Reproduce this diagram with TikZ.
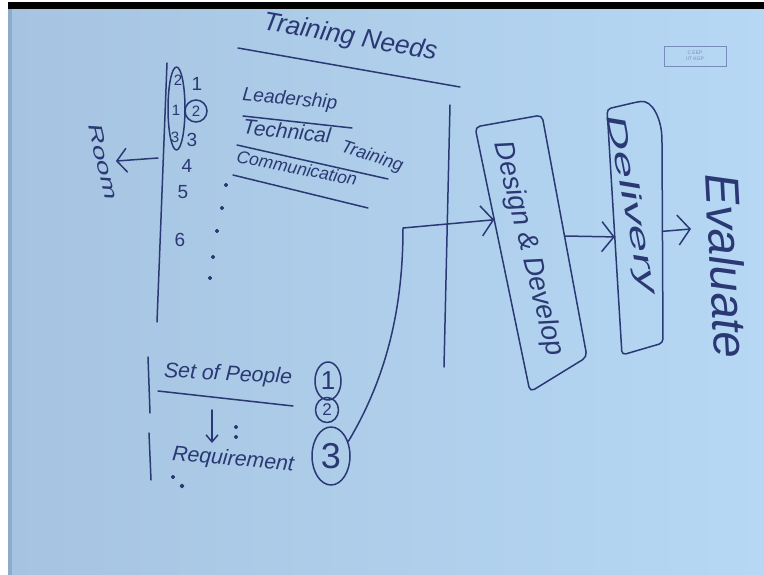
\documentclass[tikz,border=0pt]{standalone}
\usepackage{fontspec}
\setmainfont{Liberation Sans}
\usetikzlibrary{arrows.meta,shapes.geometric,calc}
\definecolor{ink}{RGB}{42,56,116}
\definecolor{bgl}{RGB}{166,196,225}
\definecolor{bgr}{RGB}{182,216,244}
\definecolor{bgd}{RGB}{140,172,205}
\definecolor{logo}{RGB}{120,140,185}
\newcommand{\hw}[2]{\resizebox{#1pt}{!}{\itshape #2}}
\newcommand{\hwh}[3]{\resizebox{#1pt}{#2pt}{\itshape #3}}
\begin{document}
\begin{tikzpicture}[x=1pt,y=-1pt,
  ink/.style={draw=ink, line width=1.5pt, line cap=round, line join=round},
  txt/.style={text=ink, inner sep=0pt, font=\fontsize{20}{24}\selectfont},
  num/.style={text=ink, inner sep=0pt, font=\fontsize{19}{22}\selectfont},
  arrbig/.style={ink, -{Straight Barb[length=12pt,width=30pt]}},
  arrmid/.style={ink, -{Straight Barb[length=10pt,width=24pt]}},
  arrsmall/.style={ink, -{Straight Barb[length=7pt,width=12pt]}},
  ring/.style={ink, draw, ellipse, inner sep=0pt}
]
\useasboundingbox (0,0) rectangle (764,575);
% background
\fill[white] (0,0) rectangle (764,575);
\shade[left color=bgl, right color=bgr] (8,9) rectangle (764,575);
\fill[bgd] (8,9) rectangle (12,575);
\fill[black] (8,2) rectangle (764,9);
% logo
\node[draw=logo, line width=0.8pt, minimum width=62, minimum height=20, inner sep=1pt,
      text=logo, font=\fontsize{5}{5.5}\selectfont, align=center] (logo) at (695,56) {C EEP\\IIT KGP};

% title
\node[txt, rotate=-10] (title) at (350,38) {\hw{176}{Training Needs}};
\draw[ink] (238,48) -- (460,87);

% left list
\draw[ink] (167,63) -- (157,322);
\draw[ink] (176.5,108.5) ellipse [x radius=8.5, y radius=41.5];
\node[num, font=\fontsize{15}{18}\selectfont] (la) at (178,80) {2};
\node[num, font=\fontsize{15}{18}\selectfont] (lb) at (176,110) {1};
\node[num, font=\fontsize{15}{18}\selectfont] (lc) at (175,137) {3};
\node[num] (n1) at (197,84) {1};
\node[num, draw=ink, line width=1.5pt, circle, minimum size=22, font=\fontsize{15}{18}\selectfont] (n2) at (196,111) {2};
\node[num] (n3) at (192,140) {3};
\node[num] (n4) at (187,166) {4};
\node[num] (n5) at (183,192) {5};
\node[num] (n6) at (180,240) {6};
\foreach \p in {(226,185),(222,208),(217,231),(213,257),(210,278)}
  \fill[ink] \p circle (1.4);

% room
\node[txt, rotate=-77] (room) at (103,162) {\hwh{77}{13}{Room}};
\coordinate (rs) at (158,158);
\draw[arrmid, shorten >=6pt] (rs) -- (room);

% training items
\node[txt, rotate=-5] (lead) at (290,100) {\hw{95}{Leadership}};
\draw[ink] (243,116) -- (352,128);
\node[txt, rotate=-6] (tech) at (287,131) {\hw{88}{Technical}};
\node[txt, rotate=-18] (trn) at (372,157) {\hw{64}{Training}};
\draw[ink] (237,145) -- (388,179);
\node[txt, rotate=-11] (comm) at (297,168) {\hw{122}{Communication}};
\draw[ink] (233,175) -- (368,208);

% right vertical line
\draw[ink] (450,105) -- (444,367);

% set of people / requirement
\draw[ink] (148,357) -- (150,413);
\draw[ink] (149,433) -- (151,480);
\node[txt, rotate=-3] (sop) at (228,375) {\hw{128}{Set of People}};
\draw[ink] (158,391) -- (293,406);
\node[txt, rotate=-5] (req) at (233,460) {\hw{122}{Requirement}};
\coordinate (d1) at (212,410);
\coordinate (d2) at (212,443);
\draw[arrsmall] (d1) -- (d2);
\fill[ink] (236,427) circle (1.3);
\fill[ink] (236,437) circle (1.3);
\fill[ink] (173,477) circle (1.3);
\fill[ink] (182,486) circle (1.5);

\node[ring, minimum width=26, minimum height=38, num, font=\fontsize{26}{30}\selectfont] (c1) at (328,381) {1};
\node[ring, minimum width=23, minimum height=25, num, font=\fontsize{17}{20}\selectfont] (c2) at (327,410) {2};
\node[ring, minimum width=38, minimum height=58, num, font=\fontsize{36}{40}\selectfont] (c3) at (331,456) {3};

% design & develop box
\coordinate (ddA) at (475,127);
\coordinate (ddB) at (542,115);
\coordinate (ddC) at (587,357);
\coordinate (ddD) at (530,392);
\draw[ink, rounded corners=5pt] (ddA) -- (ddB) -- (ddC) -- (ddD) -- cycle;
\node[txt, rotate=-76] (dd) at (528,249) {\hw{220}{Design \& Develop}};

% delivery box
\coordinate (dvA) at (607,109);
\coordinate (dvB) at (637,102);
\coordinate (dvC) at (662,140);
\coordinate (dvD) at (663,343);
\coordinate (dvE) at (622,355);
\draw[ink, rounded corners=4pt] (dvA) -- (dvB) .. controls (652,100) and (661,118) .. (dvC) -- (dvD) -- (dvE) -- cycle;
\node[txt, rotate=-79] (dv) at (631,205) {\hwh{182}{19}{Delivery}};

% evaluate
\node[txt, rotate=-87] (ev) at (727,266) {\hw{185}{Evaluate}};

% connectors
\draw[arrbig] (c3.40) .. controls (390,372) and (403,300) .. (403,228) -- ($(ddA)!0.35!(ddD)$);
\draw[arrbig] ($(ddB)!0.5!(ddC)$) -- ($(dvA)!0.52!(dvE)$);
\coordinate (evin) at (691,229);
\draw[arrbig] ($(dvC)!0.45!(dvD)$) -- (evin);
\end{tikzpicture}
\end{document}
